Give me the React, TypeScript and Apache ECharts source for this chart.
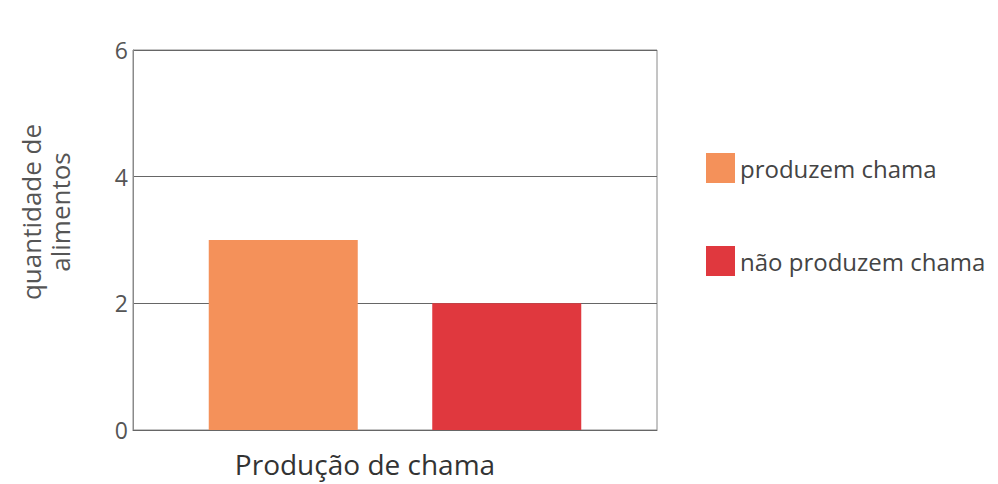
import React, { useEffect, useRef } from "react";
import * as echarts from "echarts";

const categories = ["Produção de chama"];
const seriesNames = ["produzem chama", "não produzem chama"];
const produzem = [3];
const naoProduzem = [2];
const yTicks = { min: 0, max: 6, interval: 2 };

const FONT = "Open Sans";

export default function App() {
  const ref = useRef<HTMLDivElement>(null);
  useEffect(() => {
    const chart = echarts.init(ref.current!, null, { renderer: "svg" });
    chart.setOption({
      animation: false,
      backgroundColor: "#ffffff",
      textStyle: { fontFamily: FONT },
      grid: {
        left: 133,
        right: 341,
        top: 50,
        bottom: 54,
        show: true,
        borderColor: "#8a8a8a",
        borderWidth: 1,
      },
      legend: {
        orient: "vertical",
        left: 701,
        top: 148,
        padding: 5,
        itemWidth: 29,
        itemHeight: 30,
        itemGap: 63,
        icon: "rect",
        data: seriesNames,
        textStyle: { fontFamily: FONT, fontSize: 24, lineHeight: 30, color: "#444" },
      },
      xAxis: {
        type: "category",
        data: categories,
        axisLine: { show: true, lineStyle: { color: "#666" } },
        axisTick: { show: false },
        axisLabel: {
          show: true,
          fontFamily: FONT,
          fontSize: 28,
          color: "#333",
          margin: 20,
          padding: [0, 60, 0, 0],
        },
      },
      yAxis: {
        type: "value",
        min: yTicks.min,
        max: yTicks.max,
        interval: yTicks.interval,
        axisLine: { show: true, lineStyle: { color: "#8a8a8a" } },
        axisTick: { show: false },
        axisLabel: { fontFamily: FONT, fontSize: 23, color: "#555", margin: 5 },
        splitLine: { show: true, lineStyle: { color: "#666", width: 1 } },
      },
      graphic: [
        {
          type: "text",
          x: 45,
          y: 212,
          rotation: Math.PI / 2,
          style: {
            text: "quantidade de\nalimentos",
            fontFamily: FONT,
            fontSize: 26,
            lineHeight: 29,
            fill: "#555",
            align: "center",
            verticalAlign: "middle",
          },
        },
      ],
      series: [
        {
          name: seriesNames[0],
          type: "bar",
          data: produzem,
          itemStyle: { color: "#F4915A" },
          barWidth: 149,
          barGap: "50%",
        },
        {
          name: seriesNames[1],
          type: "bar",
          data: naoProduzem,
          itemStyle: { color: "#E0383E" },
          barWidth: 149,
          barGap: "50%",
        },
      ],
    });
    return () => chart.dispose();
  }, []);
  return <div ref={ref} style={{ width: 998, height: 484, position: "absolute", left: 0, top: 0 }} />;
}
